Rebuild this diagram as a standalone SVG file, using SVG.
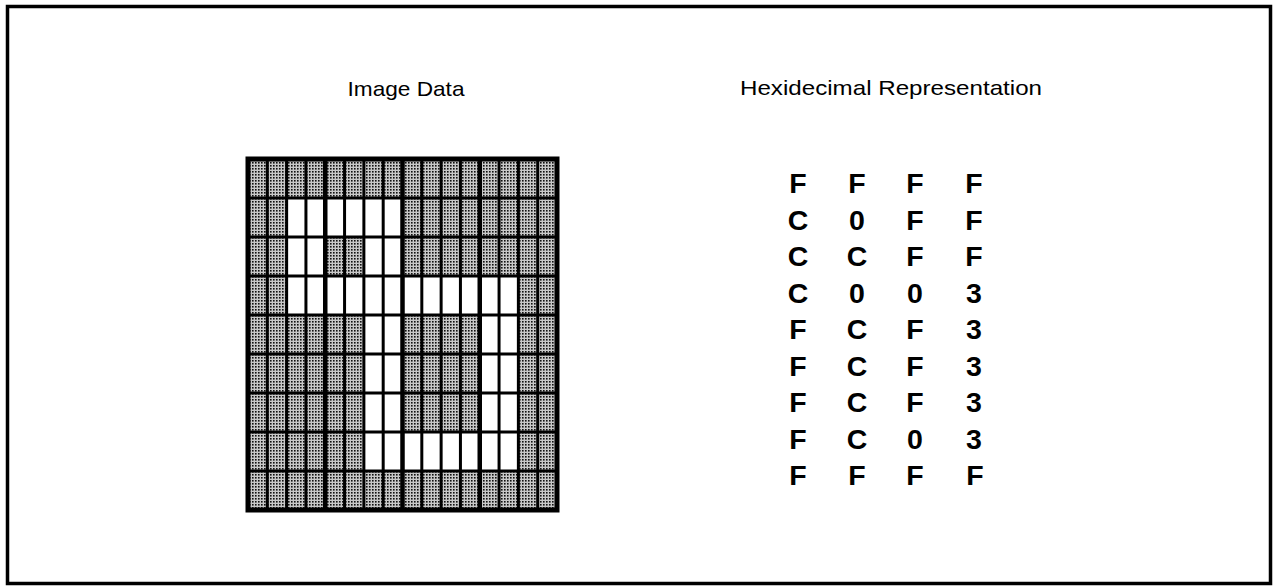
<svg xmlns="http://www.w3.org/2000/svg" width="1274" height="587" viewBox="0 0 1274 587">
<defs>
<pattern id="dots" width="3" height="3" patternUnits="userSpaceOnUse">
<rect width="3" height="3" fill="#c8c8c8"/>
<rect width="1.6" height="1.6" fill="#111"/>
</pattern>
</defs>
<style>
.title{font-family:"Liberation Sans",Arial,sans-serif;font-size:21px;fill:#000;text-anchor:middle}
.hex{font-family:"Liberation Sans",Arial,sans-serif;font-size:28.5px;font-weight:bold;fill:#000;text-anchor:middle}
.thin{stroke:#000;stroke-width:3}
.thick{stroke:#000;stroke-width:4.5}
.off{fill:#fff}
</style>
<rect width="1274" height="587" fill="#fff"/>
<g id="frame"><rect x="7.5" y="6.5" width="1263" height="577" fill="none" stroke="#000" stroke-width="3.5"/></g>

<g id="image-data">
<text class="title" x="406" y="96" textLength="117" lengthAdjust="spacingAndGlyphs">Image Data</text>
<rect x="248" y="159" width="309" height="351" fill="url(#dots)"/>
<g id="white-cells">
<rect class="off" x="286.63" y="198" width="115.87" height="39"/>
<rect class="off" x="286.63" y="237" width="38.62" height="39"/>
<rect class="off" x="363.88" y="237" width="38.62" height="39"/>
<rect class="off" x="286.63" y="276" width="231.75" height="39"/>
<rect class="off" x="363.88" y="315" width="38.62" height="117"/>
<rect class="off" x="479.75" y="315" width="38.63" height="117"/>
<rect class="off" x="363.88" y="432" width="154.5" height="39"/>
</g>
<g id="grid-lines">
<line class="thin" x1="267.31" y1="159" x2="267.31" y2="510"/>
<line class="thin" x1="286.63" y1="159" x2="286.63" y2="510"/>
<line class="thin" x1="305.94" y1="159" x2="305.94" y2="510"/>
<line class="thick" x1="325.25" y1="159" x2="325.25" y2="510"/>
<line class="thin" x1="344.56" y1="159" x2="344.56" y2="510"/>
<line class="thin" x1="363.88" y1="159" x2="363.88" y2="510"/>
<line class="thin" x1="383.19" y1="159" x2="383.19" y2="510"/>
<line class="thick" x1="402.5" y1="159" x2="402.5" y2="510"/>
<line class="thin" x1="421.81" y1="159" x2="421.81" y2="510"/>
<line class="thin" x1="441.13" y1="159" x2="441.13" y2="510"/>
<line class="thin" x1="460.44" y1="159" x2="460.44" y2="510"/>
<line class="thick" x1="479.75" y1="159" x2="479.75" y2="510"/>
<line class="thin" x1="499.06" y1="159" x2="499.06" y2="510"/>
<line class="thin" x1="518.38" y1="159" x2="518.38" y2="510"/>
<line class="thin" x1="537.69" y1="159" x2="537.69" y2="510"/>
<line class="thin" x1="248" y1="198" x2="557" y2="198"/>
<line class="thin" x1="248" y1="237" x2="557" y2="237"/>
<line class="thin" x1="248" y1="276" x2="557" y2="276"/>
<line class="thin" x1="248" y1="315" x2="557" y2="315"/>
<line class="thin" x1="248" y1="354" x2="557" y2="354"/>
<line class="thin" x1="248" y1="393" x2="557" y2="393"/>
<line class="thin" x1="248" y1="432" x2="557" y2="432"/>
<line class="thin" x1="248" y1="471" x2="557" y2="471"/>
<rect x="248" y="159" width="309" height="351" fill="none" stroke="#000" stroke-width="5"/>
</g>
</g>

<g id="hex-representation">
<text class="title" x="891" y="95" textLength="302" lengthAdjust="spacingAndGlyphs">Hexidecimal Representation</text>
<g id="hex-values">
<text class="hex" x="798" y="193">F</text><text class="hex" x="857" y="193">F</text><text class="hex" x="915" y="193">F</text><text class="hex" x="974" y="193">F</text>
<text class="hex" x="798" y="229.5">C</text><text class="hex" x="857" y="229.5">0</text><text class="hex" x="915" y="229.5">F</text><text class="hex" x="974" y="229.5">F</text>
<text class="hex" x="798" y="266">C</text><text class="hex" x="857" y="266">C</text><text class="hex" x="915" y="266">F</text><text class="hex" x="974" y="266">F</text>
<text class="hex" x="798" y="302.5">C</text><text class="hex" x="857" y="302.5">0</text><text class="hex" x="915" y="302.5">0</text><text class="hex" x="974" y="302.5">3</text>
<text class="hex" x="798" y="339">F</text><text class="hex" x="857" y="339">C</text><text class="hex" x="915" y="339">F</text><text class="hex" x="974" y="339">3</text>
<text class="hex" x="798" y="375.5">F</text><text class="hex" x="857" y="375.5">C</text><text class="hex" x="915" y="375.5">F</text><text class="hex" x="974" y="375.5">3</text>
<text class="hex" x="798" y="412">F</text><text class="hex" x="857" y="412">C</text><text class="hex" x="915" y="412">F</text><text class="hex" x="974" y="412">3</text>
<text class="hex" x="798" y="448.5">F</text><text class="hex" x="857" y="448.5">C</text><text class="hex" x="915" y="448.5">0</text><text class="hex" x="974" y="448.5">3</text>
<text class="hex" x="798" y="485">F</text><text class="hex" x="857" y="485">F</text><text class="hex" x="915" y="485">F</text><text class="hex" x="975" y="485">F</text>
</g>
</g>
</svg>
